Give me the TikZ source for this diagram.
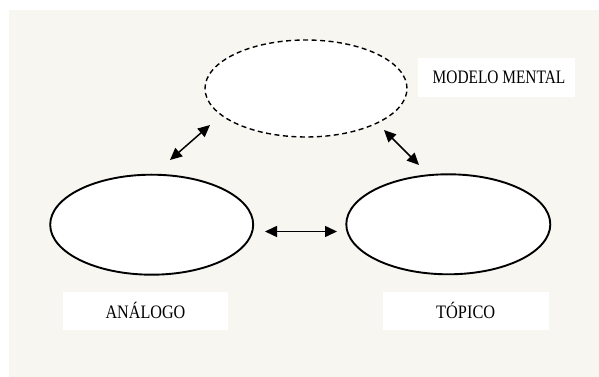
\documentclass[tikz,border=0pt]{standalone}
\usepackage{fontspec}
\usepackage{graphicx}
\setmainfont{Liberation Serif}
\usetikzlibrary{arrows.meta,shapes.geometric}
\definecolor{bgc}{RGB}{247,246,241}
\tikzset{
  oval/.style={ellipse, draw=black, fill=white, line width=1.9pt, inner sep=0pt},
  dashoval/.style={oval, line width=1.4pt, dash pattern=on 5pt off 3.5pt},
  lbl/.style={fill=white, inner sep=0pt, font=\fontsize{19}{21}\selectfont},
  arr/.style={line width=1.5pt, {Triangle[length=12pt,width=11pt]}-{Triangle[length=12pt,width=11pt]}}
}
\begin{document}
\begin{tikzpicture}[x=1pt,y=1pt]
\useasboundingbox (0,0) rectangle (599,377);
\fill[bgc] (9,0) rectangle (599,367);
\node[dashoval, minimum width=202pt, minimum height=97pt] (M) at (306,288.5) {};
\node[oval, minimum width=203pt, minimum height=100pt] (L) at (151.7,152.3) {};
\node[oval, minimum width=204pt, minimum height=100pt] (R) at (448.3,152.7) {};
\node[lbl, minimum width=157pt, minimum height=39pt] (tM) at (496.5,299.5) {\hspace{5pt}\scalebox{0.81}[1]{MODELO MENTAL}};
\node[lbl, minimum width=165.6pt, minimum height=38.3pt] (tL) at (145.5,66.2) {\scalebox{0.85}[1]{ANÁLOGO}};
\node[lbl, minimum width=166pt, minimum height=38.3pt] (tR) at (465.7,66.2) {\scalebox{0.86}[1]{TÓPICO}};
\coordinate (h1) at (265,145.5);
\coordinate (h2) at (337,145.5);
\coordinate (a1) at (170,217);
\coordinate (a2) at (210,252);
\coordinate (b1) at (384,247);
\coordinate (b2) at (419,212);
\draw[arr] (h1) -- (h2);
\draw[arr] (a1) -- (a2);
\draw[arr] (b1) -- (b2);
\end{tikzpicture}
\end{document}
